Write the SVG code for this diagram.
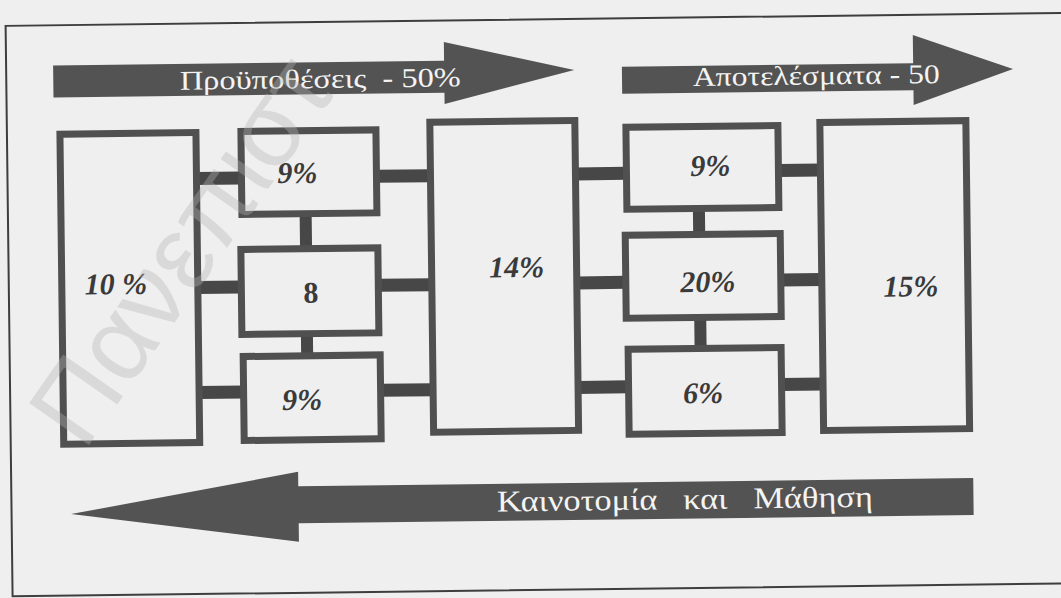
<svg xmlns="http://www.w3.org/2000/svg" width="1061" height="598" viewBox="0 0 1061 598">
  <defs>
    <style>
      .box { fill: none; stroke: #505050; stroke-width: 7; }
      .bar { fill: #474747; }
      .band { fill: #535353; }
      .pct { font-family: "Liberation Serif", "Times New Roman", serif; font-size: 30px; font-weight: bold; font-style: italic; fill: #3a3a3a; text-anchor: middle; }
      .plain { font-style: normal; }
      .band-label { font-family: "Liberation Serif", "Times New Roman", serif; font-size: 27px; fill: #f4f4f4; text-anchor: middle; white-space: pre; }
      .band-label.big { font-size: 30px; }
      .frame { fill: none; stroke: #3e3e3e; stroke-width: 2; }
      .mark { font-family: "Liberation Sans", Arial, sans-serif; font-size: 106px; fill: #b5b5b5; opacity: 0.36; }
    </style>
  </defs>

  <rect x="0" y="0" width="1061" height="598" fill="#efefef"/>

  <g transform="rotate(-0.7 530 300)">
    <!-- outer frame -->
    <rect class="frame" x="9" y="19.5" width="1100" height="570.5"/>

    <!-- flow bands -->
    <g id="band-inputs">
      <path class="band" d="M56,59.6 H447 V41 L577,70.5 L447,103 V91.6 H56 Z"/>
      <text class="band-label" x="323" y="85.4" textLength="281" lengthAdjust="spacingAndGlyphs">Προϋποθέσεις  - 50%</text>
    </g>
    <g id="band-results">
      <path class="band" d="M624.7,67.9 H916 V39.7 L1015.8,74.9 L916,109.7 V94.9 H624.7 Z"/>
      <text class="band-label" x="819" y="88" textLength="247" lengthAdjust="spacingAndGlyphs">Αποτελέσματα - 50</text>
    </g>
    <g id="band-learning">
      <path class="band" d="M971,483.5 H296 V469 L68.5,508.5 L296,539 V520.5 H971 Z"/>
      <text class="band-label big" x="682.5" y="511" textLength="376" lengthAdjust="spacingAndGlyphs">Καινοτομία   και   Μάθηση</text>
    </g>

    <!-- connectors -->
    <g id="connectors">
      <rect class="bar" x="198" y="168" width="45" height="13"/>
      <rect class="bar" x="198" y="277" width="43.5" height="13"/>
      <rect class="bar" x="198" y="382" width="44.5" height="13"/>
      <rect class="bar" x="378" y="168" width="54" height="13"/>
      <rect class="bar" x="378.5" y="277" width="53.5" height="13"/>
      <rect class="bar" x="379.5" y="382" width="52.5" height="13"/>
      <rect class="bar" x="300.7" y="211" width="12" height="35"/>
      <rect class="bar" x="300.5" y="331" width="12" height="22"/>
      <rect class="bar" x="577" y="168" width="51" height="13"/>
      <rect class="bar" x="577" y="277" width="49" height="13"/>
      <rect class="bar" x="577" y="381.5" width="50.5" height="13"/>
      <rect class="bar" x="780" y="167" width="42" height="13"/>
      <rect class="bar" x="781" y="276.5" width="41" height="13"/>
      <rect class="bar" x="780.5" y="381" width="41.5" height="13"/>
      <rect class="bar" x="694" y="210.5" width="12" height="26"/>
      <rect class="bar" x="694" y="319.5" width="12" height="31"/>
    </g>

    <!-- nodes -->
    <g id="node-a">
      <rect class="box" x="62" y="128.5" width="136" height="310"/>
      <text class="pct" x="116" y="289">10 %</text>
    </g>
    <g id="node-b1">
      <rect class="box" x="243" y="128" width="135" height="83"/>
      <text class="pct" x="299" y="180">9%</text>
    </g>
    <g id="node-b2">
      <rect class="box" x="241.5" y="246" width="137" height="85"/>
      <text class="pct plain" x="311" y="300">8</text>
    </g>
    <g id="node-b3">
      <rect class="box" x="242.5" y="353" width="137" height="84"/>
      <text class="pct" x="301" y="407">9%</text>
    </g>
    <g id="node-c">
      <rect class="box" x="432" y="121" width="145" height="310"/>
      <text class="pct" x="517" y="277">14%</text>
    </g>
    <g id="node-d1">
      <rect class="box" x="628" y="128.5" width="152" height="82"/>
      <text class="pct" x="712" y="178">9%</text>
    </g>
    <g id="node-d2">
      <rect class="box" x="626" y="236.5" width="155" height="83"/>
      <text class="pct" x="708" y="294">20%</text>
    </g>
    <g id="node-d3">
      <rect class="box" x="627.5" y="350.5" width="153" height="85"/>
      <text class="pct" x="702" y="405">6%</text>
    </g>
    <g id="node-e">
      <rect class="box" x="822" y="126" width="146" height="308"/>
      <text class="pct" x="911" y="301">15%</text>
    </g>
  </g>

  <!-- diagonal watermark lettering -->
  <text class="mark" transform="translate(84 452) rotate(-55)">Πανεπιστ</text>
</svg>
